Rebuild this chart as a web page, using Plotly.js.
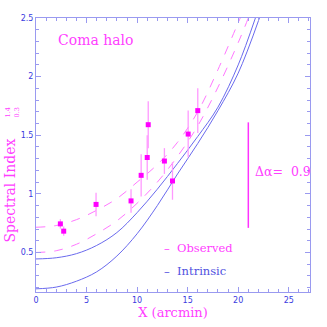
<!DOCTYPE html>
<html><head><meta charset="utf-8">
<script src="https://cdn.plot.ly/plotly-3.0.1.min.js"></script>
<style>html,body{margin:0;padding:0;background:#fff}</style>
</head><body><div id="chart" style="width:327px;height:327px"></div>
<script>
// observed data points
const obsX = [2.41, 2.74, 5.94, 9.4, 10.4, 11.0, 11.1, 12.7, 13.5, 15.05, 16.0];
const obsY = [0.744, 0.682, 0.91, 0.94, 1.158, 1.31, 1.59, 1.28, 1.11, 1.51, 1.71];
const obsErr = [0.04, 0.04, 0.1, 0.1, 0.18, 0.19, 0.2, 0.11, 0.16, 0.2, 0.19];
// model curves
const curveX = [0, 2, 4, 6, 8, 10, 12, 14, 16, 18, 20];
const obsUpper = [0.715, 0.73, 0.78, 0.86, 0.96, 1.10, 1.25, 1.44, 1.70, 2.06, 2.46];
const obsUpperEndX = 20.2, obsUpperEndY = 2.5;
const obsLower = [0.50, 0.515, 0.57, 0.66, 0.77, 0.92, 1.10, 1.32, 1.58, 1.91, 2.29];
const obsLowerEndX = 21.0, obsLowerEndY = 2.5;
const intUpper = [0.445, 0.455, 0.49, 0.56, 0.67, 0.84, 1.04, 1.26, 1.49, 1.74, 2.10];
const intUpperEndX = 21.7, intUpperEndY = 2.5;
const intLower = [0.19, 0.205, 0.255, 0.335, 0.47, 0.66, 0.90, 1.17, 1.43, 1.71, 2.03];
const intLowerEndX = 22.1, intLowerEndY = 2.5;
// delta alpha scale bar
const daX = [21, 21];
const daY = [0.71, 1.61];
const daLabel = 'Δα=  0.9';

const pink = '#ff40ff';
const pinkLight = '#ff99ff';
const blue = '#6a6aee';

function curve(y, ex, ey, color, dash) {
  return {x: curveX.concat([ex]), y: y.concat([ey]), mode: 'lines', type: 'scatter',
    line: {color: color, width: 1, dash: dash, shape: 'spline', smoothing: 1},
    hoverinfo: 'skip', showlegend: false};
}

const traces = [
  curve(obsUpper, obsUpperEndX, obsUpperEndY, '#ff77ff', 'dash'),
  curve(obsLower, obsLowerEndX, obsLowerEndY, '#ff77ff', 'dash'),
  curve(intUpper, intUpperEndX, intUpperEndY, blue, 'solid'),
  curve(intLower, intLowerEndX, intLowerEndY, blue, 'solid'),
  {x: obsX, y: obsY, mode: 'markers', type: 'scatter',
   marker: {color: '#ff00ff', size: 5, symbol: 'square'},
   error_y: {type: 'data', array: obsErr, visible: true, color: pinkLight, thickness: 1.3, width: 0},
   showlegend: false},
  {x: daX, y: daY, mode: 'lines', type: 'scatter', line: {color: '#ff33ff', width: 1.5}, showlegend: false}
];

const tickFont = {family: 'DejaVu Sans', size: 8, color: '#3a3ae0'};
const axisCommon = {
  showgrid: false, zeroline: false, showline: true, linecolor: '#9a9af0', linewidth: 1,
  mirror: 'allticks', ticks: 'inside', ticklen: 5, tickcolor: '#9a9af0', tickwidth: 1,
  tickfont: tickFont
};

const layout = {
  width: 327, height: 327,
  margin: {l: 36, r: 17, t: 18, b: 35},
  paper_bgcolor: '#fff', plot_bgcolor: '#fff',
  xaxis: Object.assign({}, axisCommon, {
    range: [0, 27.1], tickvals: [0, 5, 10, 15, 20, 25],
    minor: {dtick: 1, tick0: 0, ticks: 'inside', ticklen: 3, tickcolor: '#9a9af0'},
    title: {text: 'X (arcmin)', font: {family: 'DejaVu Serif', size: 13, color: pink}, standoff: 4}
  }),
  yaxis: Object.assign({}, axisCommon, {
    range: [0.163, 2.5], tickvals: [0.5, 1, 1.5, 2, 2.5],
    minor: {dtick: 0.1, tick0: 0, ticks: 'inside', ticklen: 3, tickcolor: '#9a9af0'}
  }),
  annotations: [
    {x: -0.095, y: 0.37, xref: 'paper', yref: 'paper', text: 'Spectral Index', textangle: -90, showarrow: false,
     xanchor: 'center', yanchor: 'middle', font: {family: 'DejaVu Serif', size: 14, color: pink}},
    {x: -0.088, y: 0.655, xref: 'paper', yref: 'paper', text: '1.4<br>0.3', textangle: -90, showarrow: false,
     xanchor: 'center', yanchor: 'middle', font: {family: 'DejaVu Serif', size: 6.5, color: pink}},
    {x: 2.0, y: 2.31, xref: 'x', yref: 'y', text: 'Coma halo', showarrow: false, xanchor: 'left',
     font: {family: 'DejaVu Serif', size: 14, color: pink}},
    {x: 21.5, y: 1.195, xref: 'x', yref: 'y', text: daLabel, showarrow: false, xanchor: 'left',
     font: {family: 'DejaVu Serif', size: 12.5, color: pink}},
    {x: 12.5, y: 0.537, xref: 'x', yref: 'y', text: '–  Observed', showarrow: false, xanchor: 'left',
     font: {family: 'DejaVu Serif', size: 11.5, color: pink}},
    {x: 12.5, y: 0.343, xref: 'x', yref: 'y', text: '–  Intrinsic', showarrow: false, xanchor: 'left',
     font: {family: 'DejaVu Serif', size: 11.5, color: '#5050e0'}}
  ]
};

Plotly.newPlot('chart', traces, layout, {staticPlot: true, displayModeBar: false});
</script></body></html>
